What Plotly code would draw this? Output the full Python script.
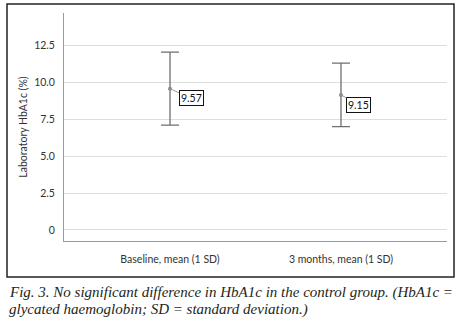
import plotly.graph_objects as go

categories = ["Baseline, mean (1 SD)", "3 months, mean (1 SD)"]
means = [9.57, 9.15]
sd_upper = [2.48, 2.16]
sd_lower = [2.47, 2.15]
mean_labels = ["9.57", "9.15"]
y_tickvals = [0, 2.5, 5.0, 7.5, 10.0, 12.5]
y_ticktext = ["0", "2.5", "5.0", "7.5", "10.0", "12.5"]
y_title = "Laboratory HbA1c (%)"
caption_lines = [
    "Fig. 3. No significant difference in HbA1c in the control group. (HbA1c =",
    "glycated haemoglobin; SD = standard deviation.)",
]

xpos = list(range(len(categories)))
grey = "#6f6f6f"
sans = "Lato, 'Open Sans', sans-serif"

fig = go.Figure()
fig.add_trace(go.Scatter(
    x=xpos, y=means, mode="markers",
    marker=dict(size=4, color="#8a8a8a"),
    error_y=dict(type="data", symmetric=False, array=sd_upper, arrayminus=sd_lower,
                 color=grey, thickness=1.3, width=9),
    showlegend=False, hoverinfo="skip",
))

label_offsets = [(21, 9.5), (17.5, 9.7)]
for i, (m, lab) in enumerate(zip(means, mean_labels)):
    fig.add_annotation(
        x=xpos[i], y=m, text=lab, showarrow=True, arrowhead=0, arrowwidth=1,
        arrowcolor="#9a9a9a", ax=label_offsets[i][0], ay=label_offsets[i][1],
        bordercolor="#111111", borderwidth=1, borderpad=1, bgcolor="white",
        font=dict(family=sans, size=10.5, color="#111111"),
    )

# outer frame
fig.add_shape(type="rect", xref="paper", yref="paper",
              x0=-0.1488, x1=1.0183, y0=-0.158, y1=1.0395,
              line=dict(color="#222222", width=1.5), fillcolor="rgba(0,0,0,0)")

# caption
fig.add_annotation(xref="paper", yref="paper", x=-0.1488, y=-0.226, xanchor="left", yanchor="middle",
                   text="<i>" + caption_lines[0] + "</i>", showarrow=False,
                   font=dict(family="'Liberation Serif', serif", size=15, color="#231f20"))
fig.add_annotation(xref="paper", yref="paper", x=-0.1488, y=-0.300, xanchor="left", yanchor="middle",
                   text="<i>" + caption_lines[1] + "</i>", showarrow=False,
                   font=dict(family="'Liberation Serif', serif", size=15, color="#231f20"))

fig.update_layout(
    width=463, height=327,
    margin=dict(l=64, r=16, t=13, b=86),
    paper_bgcolor="white", plot_bgcolor="white",
    font=dict(family=sans, size=11, color="#333333"),
    xaxis=dict(range=[-0.62, 1.62], tickvals=xpos, ticktext=categories,
               showgrid=False, zeroline=False, showline=True, linecolor="#9a9a9a",
               linewidth=1, ticks="", ticklabelstandoff=8,
               tickfont=dict(family=sans, size=10.5, color="#333333"), fixedrange=True),
    yaxis=dict(range=[-0.75, 14.7], tickvals=y_tickvals, ticktext=y_ticktext,
               showgrid=True, gridcolor="#dedede", gridwidth=1, zeroline=False,
               showline=True, linecolor="#9a9a9a", linewidth=1, ticks="",
               ticklabelstandoff=6,
               tickfont=dict(family=sans, size=10.5, color="#333333"),
               title=dict(text=y_title, standoff=4,
                          font=dict(family=sans, size=10.5, color="#333333")),
               fixedrange=True),
)

fig.write_html("out.html", config={"displayModeBar": False},
               post_script="document.body.style.margin='0';document.body.style.padding='0';")
